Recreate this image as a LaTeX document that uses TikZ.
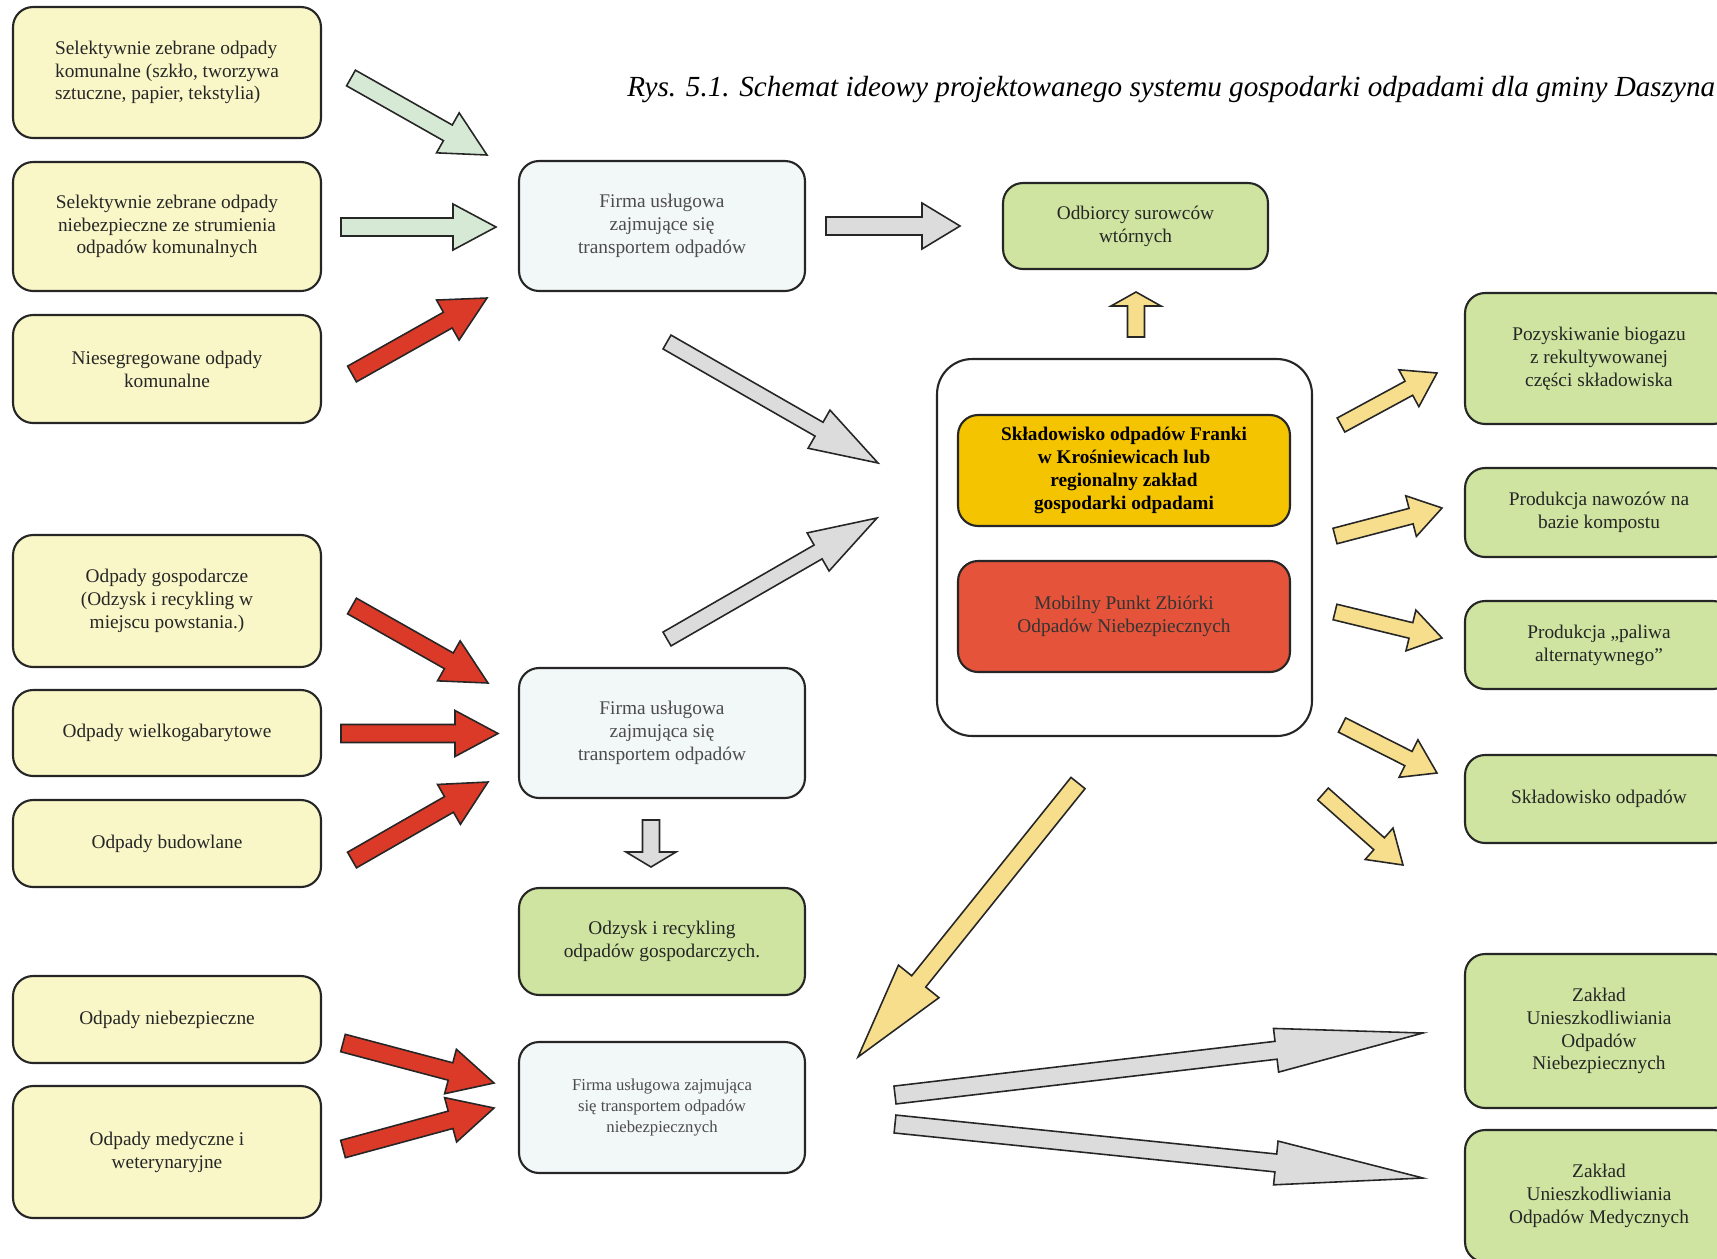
\documentclass[tikz,border=0pt]{standalone}
\usepackage{fontspec}
\setmainfont{Liberation Serif}
\usepackage{tikz}
\usetikzlibrary{calc,positioning}

\definecolor{inyellow}{RGB}{249,247,200}
\definecolor{firmafill}{RGB}{242,247,247}
\definecolor{outgreen}{RGB}{206,228,160}
\definecolor{goldfill}{RGB}{245,196,0}
\definecolor{redfill}{RGB}{228,83,58}
\definecolor{arrgreen}{RGB}{213,233,212}
\definecolor{arrred}{RGB}{220,58,40}
\definecolor{arrgray}{RGB}{220,220,220}
\definecolor{arryellow}{RGB}{247,222,140}

\newcommand{\blockarrow}[6][]{%
	\coordinate (ba) at ($(#3)!#6!(#2)$);
	\draw[arr,#1] ($(#2)!#4!90:(#3)$) -- ($(ba)!#4!-90:(#2)$) -- ($(ba)!#5!-90:(#2)$) -- (#3)
		-- ($(ba)!#5!90:(#2)$) -- ($(ba)!#4!90:(#2)$) -- ($(#2)!#4!-90:(#3)$) -- cycle;
}

\begin{document}
\begin{tikzpicture}[x=0.02cm,y=-0.02cm]
	\tikzstyle{box}=[draw=black!85, line width=1.2pt, rounded corners=0.4cm, align=center, font=\fontsize{11}{13}\selectfont, text=black!85]
	\tikzstyle{inbox}=[box, fill=inyellow, minimum width=6.16cm]
	\tikzstyle{firma}=[box, fill=firmafill, minimum width=5.72cm, text=black!70]
	\tikzstyle{outbox}=[box, fill=outgreen, minimum width=5.36cm]
	\tikzstyle{arr}=[draw=black!85, line width=0.9pt]
	\useasboundingbox (0,0) rectangle (1717,1258);

	\node[anchor=west, font=\fontsize{16.6}{20}\selectfont\itshape, inner xsep=0pt] (title) at (627,90) {Rys. 5.1. Schemat ideowy projektowanego systemu gospodarki odpadami dla gminy Daszyna};

	\node[inbox, minimum height=2.62cm, align=left] (selkom) at (167,72.5) {Selektywnie zebrane odpady\\komunalne (szkło, tworzywa\\sztuczne, papier, tekstylia)};
	\node[inbox, minimum height=2.58cm] (selniebez) at (167,226.5) {Selektywnie zebrane odpady\\niebezpieczne ze strumienia\\odpadów komunalnych};
	\node[inbox, minimum height=2.16cm] (nieseg) at (167,369) {Niesegregowane odpady\\komunalne};
	\node[inbox, minimum height=2.64cm] (gosp) at (167,601) {Odpady gospodarcze\\(Odzysk i recykling w\\miejscu powstania.)};
	\node[inbox, minimum height=1.72cm] (wielko) at (167,733) {Odpady wielkogabarytowe};
	\node[inbox, minimum height=1.74cm] (budow) at (167,843.5) {Odpady budowlane};
	\node[inbox, minimum height=1.74cm] (niebez) at (167,1019.5) {Odpady niebezpieczne};
	\node[inbox, minimum height=2.64cm] (medyk) at (167,1152) {Odpady medyczne i\\weterynaryjne};

	\node[firma, minimum height=2.6cm] (firma1) at (662,226) {Firma usługowa\\zajmujące się\\transportem odpadów};
	\node[firma, minimum height=2.6cm] (firma2) at (662,733) {Firma usługowa\\zajmująca się\\transportem odpadów};
	\node[outbox, minimum width=5.72cm, minimum height=2.14cm] (odzysk) at (662,941.5) {Odzysk i recykling\\odpadów gospodarczych.};
	\node[firma, minimum height=2.62cm, font=\fontsize{9.5}{12}\selectfont] (firma3) at (662,1107.5) {Firma usługowa zajmująca\\się transportem odpadów\\niebezpiecznych};

	\node[outbox, minimum width=5.3cm, minimum height=1.72cm] (odbiorcy) at (1135.5,226) {Odbiorcy surowców\\wtórnych};
	\node[box, fill=white, rounded corners=0.7cm, minimum width=7.5cm, minimum height=7.54cm] (centrum) at (1124.5,547.5) {};
	\node[box, fill=goldfill, minimum width=6.64cm, minimum height=2.22cm, font=\fontsize{11}{13}\selectfont\bfseries, text=black] (franki) at (1124,470.5) {Składowisko odpadów Franki\\w Krośniewicach lub\\regionalny zakład\\gospodarki odpadami};
	\node[box, fill=redfill, minimum width=6.64cm, minimum height=2.22cm, text=black!80] (mobilny) at (1124,616.5) {Mobilny Punkt Zbiórki\\Odpadów Niebezpiecznych};

	\node[outbox, minimum height=2.62cm] (biogaz) at (1599,358.5) {Pozyskiwanie biogazu\\z rekultywowanej\\części składowiska};
	\node[outbox, minimum height=1.78cm] (nawozy) at (1599,512.5) {Produkcja nawozów na\\bazie kompostu};
	\node[outbox, minimum height=1.76cm] (paliwo) at (1599,645) {Produkcja „paliwa\\alternatywnego”};
	\node[outbox, minimum height=1.76cm] (skladowisko) at (1599,799) {Składowisko odpadów};
	\node[outbox, minimum height=3.08cm] (zun) at (1599,1031) {Zakład\\Unieszkodliwiania\\Odpadów\\Niebezpiecznych};
	\node[outbox, minimum height=2.64cm] (zum) at (1599,1196) {Zakład\\Unieszkodliwiania\\Odpadów Medycznych};

	\coordinate (a1s) at (351,78);   \coordinate (a1e) at (487,155);
	\coordinate (a2s) at (341,227);  \coordinate (a2e) at (496,227);
	\coordinate (a3s) at (352,374);  \coordinate (a3e) at (487,298);
	\coordinate (a4s) at (826,226);  \coordinate (a4e) at (960,226);
	\coordinate (a5s) at (667,342);  \coordinate (a5e) at (878,463);
	\coordinate (a6s) at (667,639);  \coordinate (a6e) at (877,518);
	\coordinate (a7s) at (1136,337); \coordinate (a7e) at (1136,292);
	\coordinate (a8s) at (352,606);  \coordinate (a8e) at (488,683);
	\coordinate (a9s) at (341,733.5);  \coordinate (a9e) at (498,733.5);
	\coordinate (a10s) at (352,860); \coordinate (a10e) at (488,782);
	\coordinate (a11s) at (651,820); \coordinate (a11e) at (651,867);
	\coordinate (a12s) at (343,1043); \coordinate (a12e) at (494,1083);
	\coordinate (a13s) at (343,1149); \coordinate (a13e) at (494,1108);
	\coordinate (a14s) at (1078,783); \coordinate (a14e) at (858,1057);
	\coordinate (a15s) at (895,1095); \coordinate (a15e) at (1423,1033);
	\coordinate (a16s) at (895,1124); \coordinate (a16e) at (1423,1178);
	\coordinate (a17s) at (1341,425); \coordinate (a17e) at (1437,373);
	\coordinate (a18s) at (1335,536); \coordinate (a18e) at (1442,508);
	\coordinate (a19s) at (1335,612); \coordinate (a19e) at (1442,638);
	\coordinate (a20s) at (1342,725); \coordinate (a20e) at (1437,773);
	\coordinate (a21s) at (1323,794); \coordinate (a21e) at (1403,865);

	\blockarrow[fill=arrgreen]{a1s}{a1e}{0.18cm}{0.46cm}{0.9cm}
	\blockarrow[fill=arrgreen]{a2s}{a2e}{0.18cm}{0.46cm}{0.86cm}
	\blockarrow[fill=arrred]{a3s}{a3e}{0.18cm}{0.46cm}{0.9cm}
	\blockarrow[fill=arrgray]{a4s}{a4e}{0.18cm}{0.46cm}{0.76cm}
	\blockarrow[fill=arrgray]{a5s}{a5e}{0.16cm}{0.44cm}{1.36cm}
	\blockarrow[fill=arrgray]{a6s}{a6e}{0.16cm}{0.44cm}{1.36cm}
	\blockarrow[fill=arryellow]{a7s}{a7e}{0.17cm}{0.5cm}{0.28cm}
	\blockarrow[fill=arrred]{a8s}{a8e}{0.18cm}{0.46cm}{0.9cm}
	\blockarrow[fill=arrred]{a9s}{a9e}{0.18cm}{0.46cm}{0.86cm}
	\blockarrow[fill=arrred]{a10s}{a10e}{0.18cm}{0.46cm}{0.9cm}
	\blockarrow[fill=arrgray]{a11s}{a11e}{0.17cm}{0.5cm}{0.3cm}
	\blockarrow[fill=arrred]{a12s}{a12e}{0.18cm}{0.46cm}{0.9cm}
	\blockarrow[fill=arrred]{a13s}{a13e}{0.18cm}{0.46cm}{0.9cm}
	\blockarrow[fill=arryellow]{a14s}{a14e}{0.18cm}{0.52cm}{1.94cm}
	\blockarrow[fill=arrgray]{a15s}{a15e}{0.18cm}{0.44cm}{2.96cm}
	\blockarrow[fill=arrgray]{a16s}{a16e}{0.18cm}{0.44cm}{2.96cm}
	\blockarrow[fill=arryellow]{a17s}{a17e}{0.16cm}{0.42cm}{0.64cm}
	\blockarrow[fill=arryellow]{a18s}{a18e}{0.16cm}{0.42cm}{0.64cm}
	\blockarrow[fill=arryellow]{a19s}{a19e}{0.16cm}{0.42cm}{0.64cm}
	\blockarrow[fill=arryellow]{a20s}{a20e}{0.16cm}{0.42cm}{0.64cm}
	\blockarrow[fill=arryellow]{a21s}{a21e}{0.16cm}{0.42cm}{0.64cm}
\end{tikzpicture}
\end{document}
